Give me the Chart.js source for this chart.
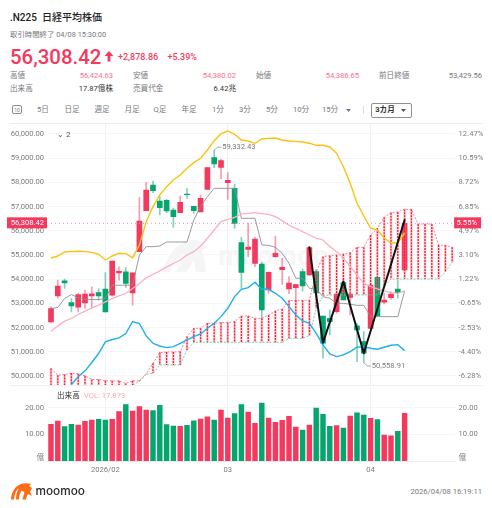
<!DOCTYPE html>
<html lang="ja"><head><meta charset="utf-8">
<script src="https://cdn.jsdelivr.net/npm/chart.js@4"></script>
<style>
html,body{margin:0;padding:0;background:#fff;width:492px;height:508px;overflow:hidden}
body{position:relative;font-family:Roboto,"Noto Sans CJK JP",sans-serif;color:#222}
.t{position:absolute;white-space:nowrap;line-height:1}
.g{color:#77797d}.r{color:#f5385d}.p{color:#f7708a}
.s{font-size:7.6px;color:#77797d}
.m{transform:translate(-50%,-50%)}
.rr{transform:translate(-100%,-50%)}
.l{transform:translateY(-50%)}
canvas{position:absolute;left:0}
.hr{position:absolute;background:#ececee}
</style></head><body>
<div class="t l" style="left:10px;top:18px;font-size:10px;font-weight:500">.N225&nbsp; 日経平均株価</div>
<div class="t l g" style="left:10px;top:35px;font-size:7.4px">取引時間終了 04/08 15:30:00</div>
<div class="t l r" style="left:10px;top:57px;font-size:20.4px;font-weight:500">56,308.42</div>
<svg style="position:absolute;left:104px;top:51px" width="10" height="11" viewBox="0 0 10 11"><path d="M5 0L9.4 5H6.4V10.6H3.6V5H.6Z" fill="#f5385d"/></svg>
<div class="t l r" style="left:118px;top:57px;font-size:9px;font-weight:500">+2,878.86</div>
<div class="t l r" style="left:167.500px;top:57px;font-size:9px;font-weight:500">+5.39%</div>

<div class="t l s" style="left:10px;top:76px">高値</div><div class="t rr p" style="left:113px;top:76px;font-size:7.6px">56,424.63</div>
<div class="t l s" style="left:133px;top:76px">安値</div><div class="t rr p" style="left:236px;top:76px;font-size:7.6px">54,380.02</div>
<div class="t l s" style="left:256px;top:76px">始値</div><div class="t rr p" style="left:359px;top:76px;font-size:7.6px">54,386.65</div>
<div class="t l s" style="left:379px;top:76px">前日終値</div><div class="t rr s" style="left:482px;top:76px">53,429.56</div>
<div class="t l s" style="left:10px;top:88.500px">出来高</div><div class="t rr" style="left:113px;top:88.500px;font-size:7.6px;color:#333">17.87億株</div>
<div class="t l s" style="left:133px;top:88.500px">売買代金</div><div class="t rr" style="left:236px;top:88.500px;font-size:7.6px;color:#333">6.42兆</div>

<div style="position:absolute;left:12px;top:105px;width:8px;height:7px;border:1px solid #8a8c90;border-radius:2px"></div>
<div class="t m s" style="left:17px;top:109.500px;font-size:5px">10</div>
<div class="t m s" style="left:43px;top:110px">5日</div>
<div class="t m s" style="left:72px;top:110px">日足</div>
<div class="t m s" style="left:102px;top:110px">週足</div>
<div class="t m s" style="left:132px;top:110px">月足</div>
<div class="t m s" style="left:160px;top:110px">Q足</div>
<div class="t m s" style="left:189px;top:110px">年足</div>
<div class="t m s" style="left:218px;top:110px">1分</div>
<div class="t m s" style="left:245px;top:110px">3分</div>
<div class="t m s" style="left:272px;top:110px">5分</div>
<div class="t m s" style="left:301px;top:110px">10分</div>
<div class="t m s" style="left:330px;top:110px">15分</div>
<svg style="position:absolute;left:346px;top:108.500px" width="5" height="3"><path d="M0 0H5L2.500 3Z" fill="#77797d"/></svg>
<div style="position:absolute;left:363px;top:106px;width:1px;height:8px;background:#dcdcdf"></div>
<div style="position:absolute;left:371px;top:102.500px;width:39px;height:13.500px;border:1px solid #8f9195;border-radius:2px"></div>
<div class="t m" style="left:385px;top:110px;font-size:7.6px;font-weight:700;color:#333">3カ月</div>
<svg style="position:absolute;left:401px;top:108.500px" width="5" height="3"><path d="M0 0H5L2.500 3Z" fill="#555"/></svg>

<div class="hr" style="left:10px;top:122.500px;width:472px;height:1px"></div>
<div class="hr" style="left:10px;top:384.500px;width:472px;height:1.500px;background:#efeff1"></div>

<svg style="position:absolute;left:160px;top:238px" width="52" height="36" viewBox="0 0 52 36"><path d="M2 34C8 16 18 4 30 2C36 1 44 4 48 10C42 10 40 12 44 18L46 34H36L34 22L26 34H16L24 16C16 20 12 26 10 34Z" fill="#f5f5f6"/></svg>
<div class="t l" style="left:218px;top:256px;font-size:27px;font-weight:700;color:#f6f6f7;letter-spacing:.5px">moomoo</div>

<canvas id="price" width="492" height="261" style="top:124px;width:492px;height:261px"></canvas>
<div class="t l" style="left:57px;top:135px;font-size:8px;color:#55575b">⌄ 2</div>
<canvas id="vol" width="492" height="90" style="top:387px;width:492px;height:90px"></canvas>
<div class="t l" style="left:57px;top:396px;font-size:7.6px;color:#333">出来高</div>
<div class="t l" style="left:84px;top:396px;font-size:7.6px;color:#f9a7b6">VOL: 17.873</div>

<svg style="position:absolute;left:11px;top:483px" width="21" height="17" viewBox="0 0 21 17"><path d="M0 16.500C.5 9 4 3 10 1C13 0 17 0 20 1L18 3L21 5L19 9L21 13L17 11C16 13 15 15 15 16.500L11.500 16.500L13.500 9L10.500 7.500C9 10 8 13 8 16.500L5 16.500C5 12 6 8 8 5C5 7 3.500 11 3 16.500Z" fill="#ff6a13"/></svg>
<div class="t l" style="left:35.500px;top:492px;font-size:11.800px;font-weight:500;color:#2b2b2b;font-family:Inter,Roboto,sans-serif">moomoo</div>
<div class="t rr s" style="left:482px;top:492px">2026/04/08 16:19:11</div>

<script>
const categories = ['2026/01/26','01/27','01/28','01/29','01/30','02/02','02/03','02/04','02/05','02/06','02/09','02/10','02/12','02/13','02/16','02/17','02/18','02/19','02/20','02/24','02/25','02/26','02/27','03/02','03/03','03/04','03/05','03/06','03/09','03/10','03/11','03/12','03/13','03/16','03/17','03/18','03/19','03/23','03/24','03/25','03/26','03/27','03/30','03/31','04/01','04/02','04/03','04/06','04/07','04/08','+1','+2','+3','+4','+5','+6','+7','+8','+9','+10'];
const axisLabels = {8:'2026/02',26:'03',47:'04'};
const opens  = [52237,53311,53931,53036,52843,53022,53311,53449,53587,53339,54262,54303,53435,55138,56832,57893,57231,57259,56860,56749,57520,57011,56777,57713,59022,58623,57989,57755,55510,55234,54655,54628,53554,54931,54394,53595,53650,54311,54174,54310,52481,52385,52660,53858,53252,52068,51421,51971,54078,53046,53238,53596,54386];
const closes = [52788,53711,53848,52898,53366,53380,53394,53311,52650,54744,54330,53821,54262,56405,57686,57658,56956,56818,56584,57176,57493,56832,57342,58609,58760,58898,58085,56309,54284,55331,55661,52727,54284,55069,54490,53843,53774,53719,55303,53430,51352,52247,53390,53142,53390,51903,50939,53762,52481,53142,53390,53445,56308];
const highs  = [52857,53959,54000,53200,53410,53545,53683,53614,54275,54744,54510,54482,54262,57383,58003,58058,57410,57300,56928,57438,57755,57025,57479,58609,59332.43,58953,58402,57934,55730,56309,55730,54700,54300,55785,54862,54105,53800,54421,55318,54400,52481,52729,53417,53968,53390,52178,51834,53790,54100,53417,53486,53968,56424.63];
const lows   = [52195,53229,53614,52650,52650,52788,52788,53132,52650,53311,53959,53656,52926,55138,56832,57576,56653,56749,56143,56749,57342,56722,56777,57713,58609,58154,57300,56102,53623,54931,54518,52383,53416,54900,53788,53400,53072,53512,54150,53300,50732,51696,52591,53142,52522,50594,50558.91,51971,52450,52977,53169,53211,54380.02];

const yellow = [54876,54959,55124,55138,55152,55138,55110,55028,54793,54959,55069,55055,54890,55413,56377,56997,57479,57824,58100,58306,58581,58816,58995,59339,59725,60014,60124,59986,59752,59711,59614,59793,59821,59835,59752,59711,59697,59670,59620,59533,59533,59463,59202,58649,57963,57136,56612,56116,56033,55702,55496,55496,55909];
const pink = [51852,52072,52265,52375,52540,52678,52815,52926,53063,53201,53311,53408,53614,53821,54055,54193,54344,54510,54650,54795,55002,55139,55373,55690,56034,56378,56475,56558,56695,56723,56750,56709,56681,56585,56420,56227,56103,55965,55827,55700,55620,55345,55138,54863,54519,54175,53830,53693,53596,53514,53445,53417,53514];
const blue = [null,null,null,49649,49965,50213,50558,50929,51411,51508,51576,51755,52251,52169,51659,51352,51240,51173,51214,51352,51490,51627,51737,51972,52178,52453,52798,53280,53583,53652,53872,53583,53583,53417,53211,52867,52522,52274,52178,51765,51283,50911,50801,50870,51007,51187,51214,51145,51104,51187,51269,51296,51049];
const gray = [52788,52830,53201,53366,53229,53174,53160,53160,53201,53752,53752,53752,53752,55000,55345,55345,55372,55538,55538,55538,55538,56448,56999,57411,57755,57755,57755,57755,56516,56516,56516,55415,55400,55318,55069,54657,54038,54038,53625,53597,53280,53211,53004,53004,52963,52922,52922,52453,52453,52453,52453,52453,53514];
const zigzag = {38:55318,40:51379,43:53899,46:50939,52:56447};
const spanUpper = [50310,50034,50062,50117,50089,50007,49855,49855,49800,49800,49800,49690,49800,49800,50076,50526,50966,50993,50993,51008,51627,51972,51972,52178,52178,52206,52206,52247,52481,52481,52385,52385,52522,52688,52770,53115,53128,53128,53128,54312,54932,54973,55001,55042,55097,55318,55318,55827,56102,56557,56750,56777,56887,56887,56281,56281,56281,55414,55400,55318];
const spanLower = [49400,49400,49400,49400,49400,49400,49400,49400,49400,49400,49400,49400,49620,49786,50076,50113,50457,50457,50457,50457,51077,51393,51393,51393,51393,51393,51393,51393,51393,51393,51393,51393,51393,51393,51393,51558,51558,51558,51669,52800,53321,53348,53348,53348,53348,53348,53348,53348,53348,53700,54009,54009,54009,54009,54009,54009,54009,54009,54312,54698];
const volumes = [13.75,15,12.9,13.75,13.5,14.9,15.4,15.6,15.4,15.6,18.5,21.2,18.7,20.4,19.1,18.9,20.9,13.7,13.1,13,13.4,15.1,15.7,16.6,15.4,19.1,16.1,17.8,21.2,18.4,14.1,21.75,16.1,14.5,15.25,16.75,12.75,11.6,13.5,19.9,17.5,13,13.25,12.4,16.9,18.1,17.25,16,15.5,9.75,9.4,11.1,17.87];
const volumeUp = [1,1,0,0,1,1,1,0,0,1,1,0,1,1,1,0,0,0,0,1,0,0,1,1,0,1,1,0,0,1,1,0,1,1,1,1,1,0,1,0,0,0,1,0,1,0,0,1,0,1,1,0,1];
const priceTicks = [60000,59000,58000,57000,56000,55000,54000,53000,52000,51000,50000];
const percentTicks = ['12.47%','10.59%','8.72%','6.85%','4.97%','3.10%','1.22%','-0.65%','-2.53%','-4.40%','-6.28%'];
const volumeTicks = [20,10,1.2];
const lastPrice = 56308.42, lastPercent = '5.55%';
const callouts = [{i:24,v:59332.43,text:'59,332.43',dx:3.500,dy:-3},{i:46,v:50558.91,text:'50,558.91',dx:3.500,dy:3.500}];

const RED='#f5385d', GREEN='#05a56e', TICK='#7b7d81', FONT='Roboto,"Noto Sans CJK JP",sans-serif';
const labels = categories;
const zig = categories.map((_,i)=> i in zigzag ? zigzag[i] : null);
const HATCH_INDEX = 2;

const base = {
  responsive:false, animation:false, devicePixelRatio:1,
  layout:{padding:0},
  plugins:{legend:{display:false},tooltip:{enabled:false}},
  events:[]
};
function gridCol(ctx){return (ctx.index in axisLabels)?'#f1f1f3':'rgba(0,0,0,0)';}
function line(data,color,width,order,extra){
  return Object.assign({type:'line',data,borderColor:color,borderWidth:width,pointRadius:0,tension:0,order,fill:false,clip:true},extra||{});
}
function bar(data,colors,thick,order){
  return {type:'bar',data,backgroundColor:colors,borderWidth:0,barThickness:thick,grouped:false,order};
}
function noPadV(s){s.paddingTop=0;s.paddingBottom=0;}
function noPadH(s){s.paddingLeft=0;s.paddingRight=0;}
const candleColor = volumeUp.map(u=>u?RED:GREEN);
const wickColor = volumeUp.map(u=>u?'rgba(245,56,93,.5)':'rgba(5,165,110,.5)');
const hatchDash = {
  id:'hatchDash',
  afterDatasetDraw(ch,args){
    if(args.index!==HATCH_INDEX) return;
    const {ctx,chartArea:a}=ch;
    ctx.save();
    ctx.beginPath();ctx.rect(a.left,a.top,a.right-a.left,a.bottom-a.top);ctx.clip();
    ctx.strokeStyle='#f8182f';ctx.lineWidth=1.3;ctx.setLineDash([2,1]);
    ch.getDatasetMeta(args.index).data.forEach(b=>{
      ctx.beginPath();ctx.moveTo(b.x,b.y);ctx.lineTo(b.x,b.base);ctx.stroke();
    });
    ctx.restore();
  }
};
const overlay = {
  id:'overlay',
  afterDatasetsDraw(ch){
    const {ctx,scales:{x,y},chartArea:a}=ch;
    ctx.save();
    const py=y.getPixelForValue(lastPrice)-.5;
    ctx.font='7.6px '+FONT;ctx.textBaseline='middle';
    ctx.fillStyle=RED;ctx.fillRect(7,py-5.500,40,11);ctx.fillRect(a.right-1.500,py-5.500,27,11);
    ctx.fillStyle='#fff';ctx.textAlign='right';ctx.fillText('56,308.42',44,py);
    ctx.textAlign='left';ctx.fillText(lastPercent,a.right+1,py);
    callouts.forEach(c=>{
      const px=x.getPixelForValue(c.i),pv=y.getPixelForValue(c.v);
      ctx.strokeStyle='#8d8f93';ctx.lineWidth=.8;ctx.beginPath();
      ctx.moveTo(px,pv);ctx.lineTo(px+c.dx,pv+c.dy);ctx.lineTo(px+c.dx+3.500,pv+c.dy);ctx.stroke();
      ctx.fillStyle='#77797d';ctx.textAlign='left';ctx.fillText(c.text,px+c.dx+4.500,pv+c.dy);
    });
    ctx.restore();
  }
};
new Chart(document.getElementById('price'),{
  data:{labels,datasets:[
    bar(lows.map((l,i)=>[l,highs[i]]),wickColor,1,20),
    bar(opens.map((o,i)=>[o,closes[i]]),candleColor,5,19),
    bar(spanLower.map((l,i)=>[l,spanUpper[i]]),'rgba(250,130,145,.35)',2,18),
    line(spanUpper,'#f2607a',.8,17,{borderDash:[2,1.500]}),
    line(spanLower,'#52c9a0',.8,17,{borderDash:[2,1.500]}),
    line(gray,'#8d8f93',.9,16),
    line(pink,'#fbb0c2',1.3,15),
    line(blue,'#1cb0ec',1.4,14),
    line(yellow,'#fcc210',1.4,13),
    line(categories.map(()=>lastPrice),'#f98da0',1,12,{borderDash:[1,3]}),
    line(zig,'#111',2,1,{spanGaps:true,borderCapStyle:'round',borderJoinStyle:'round'})
  ]},
  options:Object.assign({},base,{
    scales:{
      x:{type:'category',offset:true,border:{display:false},
         grid:{offset:false,color:gridCol,drawTicks:false},
         ticks:{display:false,autoSkip:false},
         afterFit(s){s.height=0;noPadH(s);noPadV(s);}},
      y:{position:'left',min:49628,max:60413,border:{display:false},
         grid:{color:'#f6f6f7',drawTicks:false},
         afterBuildTicks(s){s.ticks=priceTicks.map(value=>({value}));},
         afterFit(s){s.width=47.6;noPadV(s);noPadH(s);},
         ticks:{autoSkip:false,padding:3.500,color:TICK,font:{size:7.6,family:FONT},
           callback:v=>v.toLocaleString('en-US',{minimumFractionDigits:2})}},
      y1:{position:'right',min:49628,max:60413,border:{display:false},
         grid:{display:false,drawTicks:false},
         afterBuildTicks(s){s.ticks=priceTicks.map(value=>({value}));},
         afterFit(s){s.width=36.4;noPadV(s);noPadH(s);},
         ticks:{autoSkip:false,padding:3,color:TICK,font:{size:7.6,family:FONT},
           callback:v=>percentTicks[priceTicks.indexOf(v)]}}
    }
  }),
  plugins:[hatchDash,overlay]
});
new Chart(document.getElementById('vol'),{
  data:{labels,datasets:[bar(volumes,volumeUp.map(u=>u?RED:GREEN),4.8,1)]},
  options:Object.assign({},base,{
    scales:{
      x:{type:'category',offset:true,border:{display:true,color:'#ececee'},
         grid:{offset:false,color:gridCol,drawTicks:false},
         ticks:{autoSkip:false,maxRotation:0,padding:5,color:TICK,font:{size:7.6,family:FONT},
           callback:(v,i)=>axisLabels[i]||''},
         afterFit(s){s.height=16;noPadH(s);noPadV(s);}},
      y:{position:'left',min:0,max:27.77,border:{display:false},
         grid:{color:c=>c.tick&&c.tick.value>2?'#f6f6f7':'rgba(0,0,0,0)',drawTicks:false},
         afterBuildTicks(s){s.ticks=volumeTicks.map(value=>({value}));},
         afterFit(s){s.width=47.6;noPadV(s);noPadH(s);},
         ticks:{autoSkip:false,padding:3.500,color:TICK,font:{size:7.6,family:FONT},
           callback:v=>v<2?'億':v.toFixed(2)}},
      y1:{position:'right',min:0,max:27.77,border:{display:false},
         grid:{display:false,drawTicks:false},
         afterBuildTicks(s){s.ticks=volumeTicks.map(value=>({value}));},
         afterFit(s){s.width=36.4;noPadV(s);noPadH(s);},
         ticks:{autoSkip:false,padding:3,color:TICK,font:{size:7.6,family:FONT},
           callback:v=>v<2?'億':v.toFixed(2)}}
    }
  })
});
</script>
</body></html>
